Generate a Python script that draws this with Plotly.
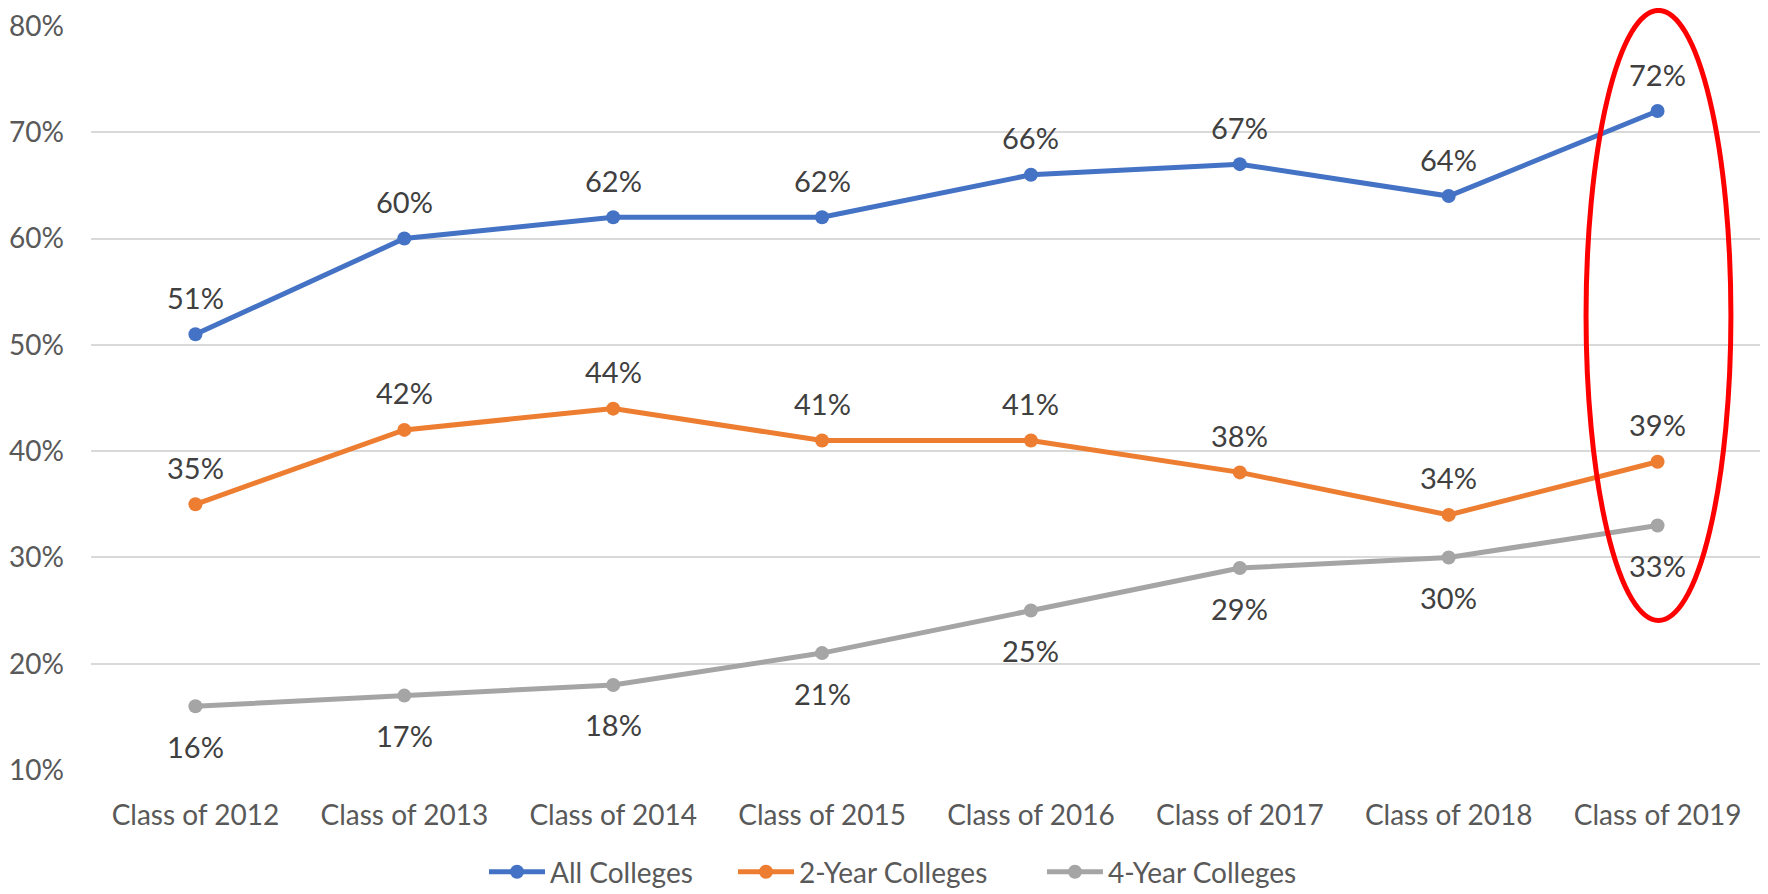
import plotly.graph_objects as go

categories = ["Class of 2012", "Class of 2013", "Class of 2014", "Class of 2015",
              "Class of 2016", "Class of 2017", "Class of 2018", "Class of 2019"]
all_colleges = [51, 60, 62, 62, 66, 67, 64, 72]
two_year = [35, 42, 44, 41, 41, 38, 34, 39]
four_year = [16, 17, 18, 21, 25, 29, 30, 33]
y_ticks = [10, 20, 30, 40, 50, 60, 70, 80]

series = [
    ("All Colleges", all_colleges, "#4472C4", 37, "legend", 0.2352),
    ("2-Year Colleges", two_year, "#ED7D31", 37, "legend2", 0.3842),
    ("4-Year Colleges", four_year, "#A5A5A5", -40, "legend3", 0.5691),
]

FONT = "Lato"
fig = go.Figure()
annotations = []
legends = {}
for name, vals, color, shift, lg, lx in series:
    fig.add_trace(go.Scatter(
        x=categories, y=vals, name=name, mode="lines+markers",
        line=dict(color=color, width=5),
        marker=dict(color=color, size=14),
        legend=lg,
    ))
    legends[lg] = dict(orientation="h", x=lx, xanchor="left", y=-0.1371, yanchor="middle",
                       font=dict(family=FONT, size=28, color="#595959"), itemwidth=56,
                       bgcolor="rgba(0,0,0,0)")
    for c, v in zip(categories, vals):
        annotations.append(dict(
            x=c, y=v, xref="x", yref="y", text=f"{v}%", showarrow=False,
            yshift=shift, font=dict(family=FONT, size=29, color="#404040"),
        ))

# red highlight ellipse around the last category (paper coords so it isn't clipped)
fig.add_shape(type="circle", xref="paper", yref="paper",
              x0=0.8947, x1=0.9814, y0=0.201, y1=1.021,
              line=dict(color="#FF0000", width=5))

fig.update_layout(
    width=1760, height=886,
    margin=dict(l=83, r=6, t=18, b=124, autoexpand=False),
    paper_bgcolor="white", plot_bgcolor="white",
    font=dict(family=FONT, size=28, color="#595959"),
    annotations=annotations,
    showlegend=True,
    xaxis=dict(range=[-0.5, 7.5], showgrid=False, showline=False, ticks="",
               tickfont=dict(size=28, color="#595959"), ticklabelstandoff=26,
               ticklabeloverflow="allow"),
    yaxis=dict(range=[10, 80], tickvals=y_ticks, ticktext=[f"{t}%" for t in y_ticks],
               showgrid=True, gridcolor="#D9D9D9", gridwidth=1.5, zeroline=False,
               showline=False, ticks="", tickfont=dict(size=28, color="#595959"),
               ticklabelstandoff=26, ticklabeloverflow="allow"),
    **legends,
)

fig.write_html("out.html")
